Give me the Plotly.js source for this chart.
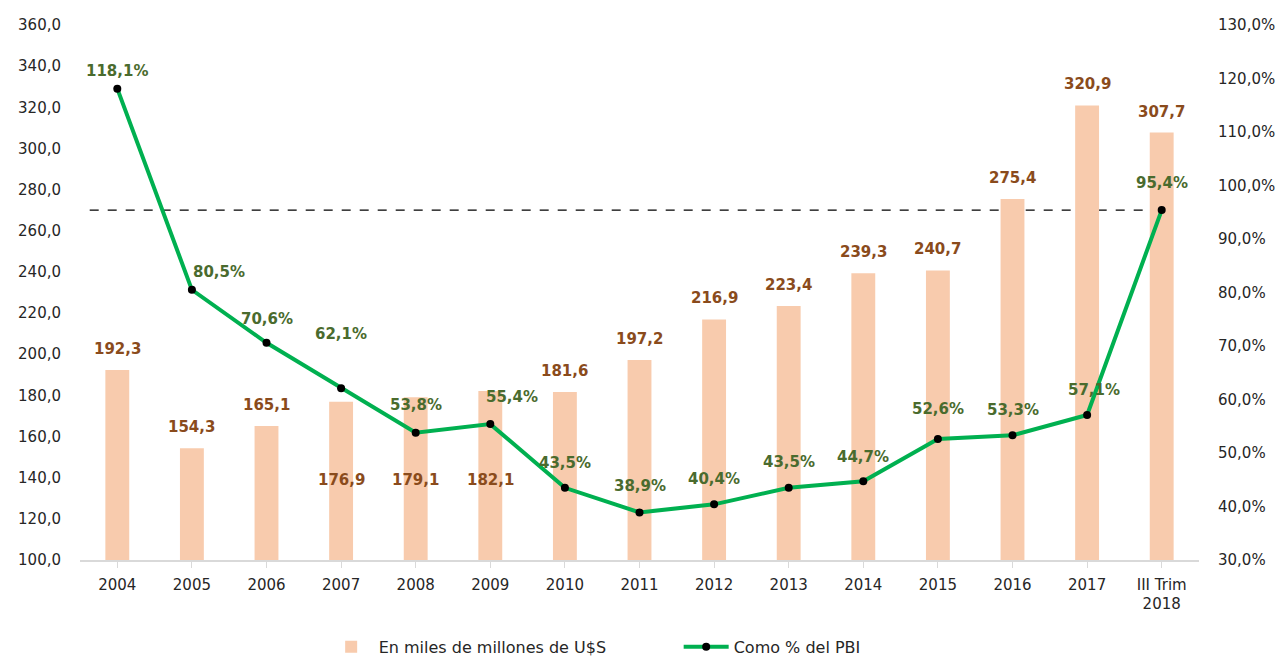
<!DOCTYPE html>
<html><head><meta charset="utf-8">
<script src="https://cdn.plot.ly/plotly-3.0.1.min.js"></script>
<style>body{margin:0;background:#fff}#c{width:1286px;height:656px}</style>
</head><body><div id="c"></div>
<script>
const categories = ['2004','2005','2006','2007','2008','2009','2010','2011','2012','2013','2014','2015','2016','2017','III Trim<br>2018'];
const usd = [192.3,154.3,165.1,176.9,179.1,182.1,181.6,197.2,216.9,223.4,239.3,240.7,275.4,320.9,307.7];
const pbi = [118.1,80.5,70.6,62.1,53.8,55.4,43.5,38.9,40.4,43.5,44.7,52.6,53.3,57.1,95.4];
const leftTicks = [100,120,140,160,180,200,220,240,260,280,300,320,340,360];
const rightTicks = [30,40,50,60,70,80,90,100,110,120,130];

const fmt = v => v.toFixed(1).replace('.', ',');
const font = 'DejaVu Sans, Verdana, sans-serif';

// label placement (styling)
const barLabelLow = [false,false,false,true,true,true,false,false,false,false,false,false,false,false,false];
const pctXShift = [0,27,0,0,0,22,0,0,0,0,0,0,0,7,0];
const pctYShift = [18,18,24,54,28,27,25,26,25,26,24,30,25,25,27];

const annotations = [];
usd.forEach((v,i) => {
  annotations.push({
    x: i, y: barLabelLow[i] ? 139 : v, xref:'x', yref:'y',
    text: '<b>' + fmt(v) + '</b>', showarrow:false,
    yshift: barLabelLow[i] ? 0 : 21,
    font:{family:font, size:15, color:'#8A4B1C'}
  });
});
pbi.forEach((p,i) => {
  annotations.push({
    x: i, y: p, xref:'x', yref:'y2',
    text: '<b>' + fmt(p) + '%</b>', showarrow:false,
    xshift: pctXShift[i], yshift: pctYShift[i],
    font:{family:font, size:15, color:'#4A6B2E'}
  });
});

const xs = categories.map((c,i)=>i);
const traces = [
  {type:'bar', x: xs, y: usd, name:'En miles de millones de U$S',
   marker:{color:'#F8CBAD'}, hoverinfo:'none'},
  {type:'scatter', mode:'lines+markers', x: xs, y: pbi, yaxis:'y2',
   name:'Como % del PBI', line:{color:'#00B050', width:4},
   marker:{color:'#000', size:8}, hoverinfo:'none'}
];

const tickFont = {family:font, size:15, color:'#262626'};
const layout = {
  width:1286, height:656,
  margin:{l:80, r:87, t:25, b:96, autoexpand:false},
  paper_bgcolor:'#fff', plot_bgcolor:'#fff',
  bargap: 0.68,
  showlegend: true,
  legend:{orientation:'h', x:0.535, xanchor:'center', yref:'container', y:0.014, yanchor:'middle',
          font:{family:font, size:16, color:'#262626'}, traceorder:'normal', itemwidth:45,
          entrywidth:295, entrywidthmode:'pixels'},
  xaxis:{
    tickmode:'array', tickvals: xs, ticktext: categories,
    range:[-0.5, categories.length-0.5],
    showline:true, linecolor:'#D9D9D9', linewidth:1.5,
    ticks:'outside', tickson:'boundaries', ticklen:6, tickcolor:'#D9D9D9',
    ticklabelstandoff: 4,
    showgrid:false, zeroline:false,
    tickfont: tickFont
  },
  yaxis:{
    range:[100,360], tickmode:'array', tickvals:leftTicks, ticktext:leftTicks.map(fmt),
    showgrid:false, zeroline:false, showline:false, ticks:'',
    ticklabelstandoff: 18,
    tickfont: tickFont
  },
  yaxis2:{
    overlaying:'y', side:'right', range:[30,130], tickmode:'array',
    tickvals:rightTicks, ticktext:rightTicks.map(v => fmt(v) + '%'),
    showgrid:false, zeroline:false, showline:false, ticks:'',
    ticklabelstandoff: 18,
    tickfont: tickFont
  },
  shapes:[{type:'line', xref:'x', yref:'y2', x0:-0.37, x1:categories.length-1,
           y0:pbi[pbi.length-1], y1:pbi[pbi.length-1],
           line:{color:'#000', width:1.2, dash:'dash'}, layer:'below'}],
  annotations: annotations
};

Plotly.newPlot('c', traces, layout, {displayModeBar:false, staticPlot:true});
</script>
</body></html>
